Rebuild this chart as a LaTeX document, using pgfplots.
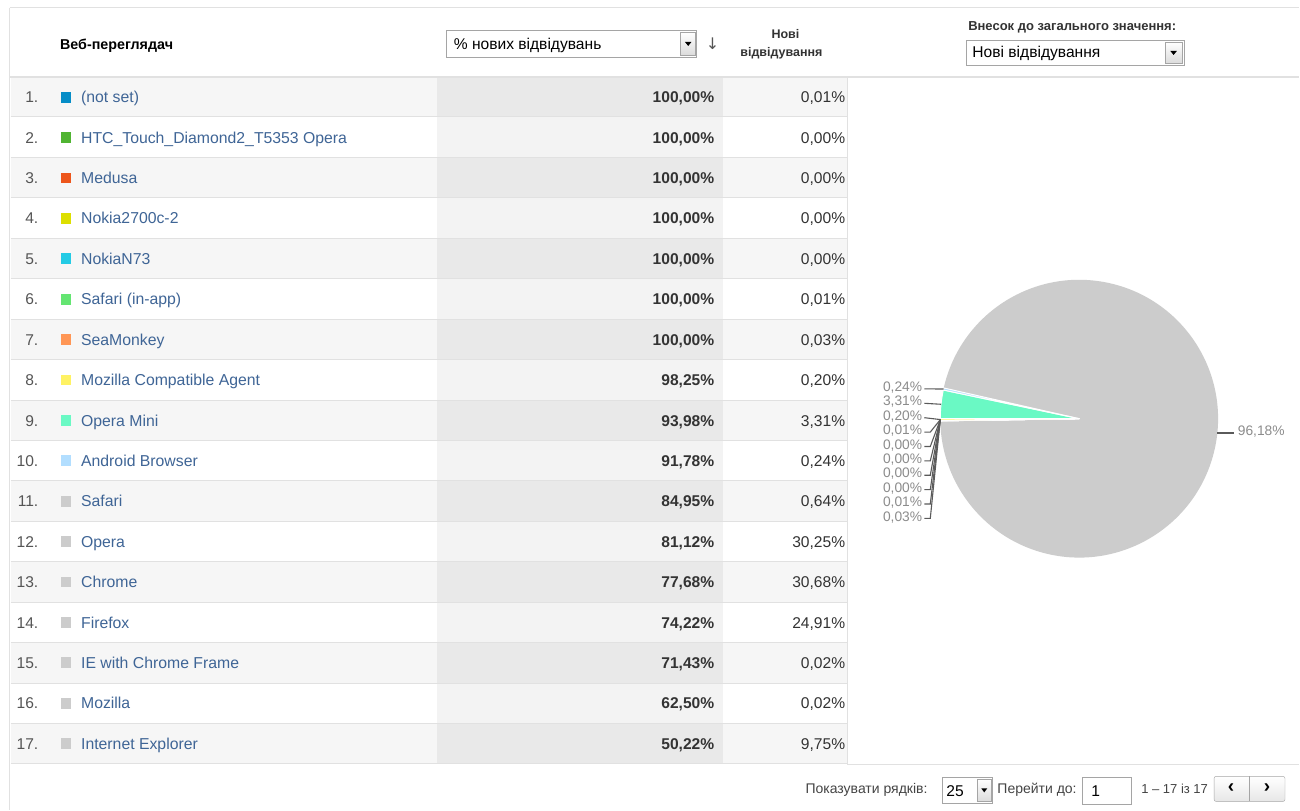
\documentclass[border=0pt]{standalone}
\usepackage{fontspec}
\setmainfont{Liberation Sans}
\newfontfamily\dejavu{DejaVu Sans}
\usepackage{pgfplots}
\usepackage{pgfplotstable}
\pgfplotsset{compat=1.18}

\definecolor{c1}{HTML}{058DC7}
\definecolor{c2}{HTML}{50B432}
\definecolor{c3}{HTML}{ED561B}
\definecolor{c4}{HTML}{DDDF00}
\definecolor{c5}{HTML}{24CBE5}
\definecolor{c6}{HTML}{64E572}
\definecolor{c7}{HTML}{FF9655}
\definecolor{c8}{HTML}{FFF263}
\definecolor{c9}{HTML}{6AF9C4}
\definecolor{c10}{HTML}{B2DEFF}
\definecolor{cg}{HTML}{CCCCCC}
\definecolor{linkc}{HTML}{3F6596}
\definecolor{numc}{HTML}{555555}
\definecolor{valc}{HTML}{333333}
\definecolor{sepc}{HTML}{E1E1E1}
\definecolor{rowg}{HTML}{F6F6F6}
\definecolor{colg}{HTML}{E9E9E9}
\definecolor{colw}{HTML}{F3F3F3}
\definecolor{labc}{HTML}{8C8C8C}
\definecolor{leadc}{HTML}{5A5A5A}
\definecolor{boxc}{HTML}{A5A5A5}
\definecolor{btnc}{HTML}{DCDCDC}
\definecolor{ftc}{HTML}{444444}

\newcommand\fs[1]{\fontsize{#1}{#1}\selectfont}
\pgfkeys{/pgf/number format/.cd, fixed, fixed zerofill, precision=2, use comma, assume math mode=true}

% browser, % new visits, share of new visits
\pgfplotstableread[col sep=comma]{
idx,name,col,pnew,share
1,(not set),c1,100.00,0.01
2,HTC\_Touch\_Diamond2\_T5353 Opera,c2,100.00,0.00
3,Medusa,c3,100.00,0.00
4,Nokia2700c-2,c4,100.00,0.00
5,NokiaN73,c5,100.00,0.00
6,Safari (in-app),c6,100.00,0.01
7,SeaMonkey,c7,100.00,0.03
8,Mozilla Compatible Agent,c8,98.25,0.20
9,Opera Mini,c9,93.98,3.31
10,Android Browser,c10,91.78,0.24
11,Safari,cg,84.95,0.64
12,Opera,cg,81.12,30.25
13,Chrome,cg,77.68,30.68
14,Firefox,cg,74.22,24.91
15,IE with Chrome Frame,cg,71.43,0.02
16,Mozilla,cg,62.50,0.02
17,Internet Explorer,cg,50.22,9.75
}\browsers

% pie slices (first ten rows + the rest)
\pgfplotstableread[col sep=comma]{
share,col
0.01,c1
0.00,c2
0.00,c3
0.00,c4
0.00,c5
0.01,c6
0.03,c7
0.20,c8
3.31,c9
0.24,c10
96.18,cg
}\pieshares

\begin{document}
\begin{tikzpicture}
\begin{axis}[
  x=1pt, y=1pt, xmin=0, xmax=1300, ymin=0, ymax=811,
  y dir=reverse, hide axis, scale only axis, clip=false,
]
\pgfplotsextra{%
\begin{scope}[every node/.append style={inner sep=0pt}]
  \fill[white] (axis cs:0,0) rectangle (axis cs:1300,811);

  % ---- row backgrounds
  \foreach \i in {0,...,16}{%
    \pgfmathsetmacro\yt{round(77+40.44*\i)}%
    \pgfmathsetmacro\yb{round(77+40.44*(\i+1))}%
    \ifodd\i
      \def\bga{white}\def\bgb{colw}\def\bgc{white}%
    \else
      \def\bga{rowg}\def\bgb{colg}\def\bgc{rowg}%
    \fi
    \fill[\bga] (axis cs:11,\yt) rectangle (axis cs:437,\yb);
    \fill[\bgb] (axis cs:437,\yt) rectangle (axis cs:724,\yb);
    \fill[\bgc] (axis cs:724,\yt) rectangle (axis cs:848,\yb);
  }
  % ---- row lines and text
  \foreach \i in {0,...,16}{%
    \pgfmathsetmacro\yb{round(77+40.44*(\i+1))}%
    \pgfmathsetmacro\yc{77+40.44*\i+20.22}%
    \pgfmathsetmacro\ybl{\yc+5.6}%
    \pgfmathsetmacro\sqa{\yc-5.4}%
    \pgfmathsetmacro\sqb{\yc+5.4}%
    \draw[sepc, line width=1pt] (axis cs:11,\yb) -- (axis cs:848,\yb);
    \pgfplotstablegetelem{\i}{idx}\of\browsers \let\rid\pgfplotsretval
    \pgfplotstablegetelem{\i}{name}\of\browsers \let\rname\pgfplotsretval
    \pgfplotstablegetelem{\i}{col}\of\browsers \let\rcol\pgfplotsretval
    \pgfplotstablegetelem{\i}{pnew}\of\browsers \let\rpnew\pgfplotsretval
    \pgfplotstablegetelem{\i}{share}\of\browsers \let\rshare\pgfplotsretval
    \node[anchor=base east, text=numc, font=\fs{15.6}] at (axis cs:38.5,\ybl) {\rid.};
    \fill[\rcol] (axis cs:61,\sqa) rectangle (axis cs:71.5,\sqb);
    \node[anchor=base west, text=linkc, font=\fs{15.8}] at (axis cs:81,\ybl) {\rname};
    \node[anchor=base east, text=valc, font=\bfseries\fs{15.6}] at (axis cs:715,\ybl) {\pgfmathprintnumber{\rpnew}\%};
    \node[anchor=base east, text=valc, font=\fs{15.6}] at (axis cs:846,\ybl) {\pgfmathprintnumber{\rshare}\%};
  }

  % ---- frame lines
  \draw[sepc, line width=1pt] (axis cs:10,8) -- (axis cs:1300,8);
  \draw[sepc, line width=2pt] (axis cs:10,77) -- (axis cs:1300,77);
  \draw[sepc, line width=1pt] (axis cs:10,8) -- (axis cs:10,811);
  \draw[sepc, line width=1pt] (axis cs:848,77) -- (axis cs:848,765);
  \draw[sepc, line width=1pt] (axis cs:848,765) -- (axis cs:1300,765);

  % ---- header
  \node[anchor=base west, text=black, font=\bfseries\fs{14.3}] at (axis cs:60,50) {Веб-переглядач};
  \draw[boxc, fill=white] (axis cs:447,30) rectangle (axis cs:697,57);
  \shade[top color=white, bottom color=btnc, draw=boxc] (axis cs:681,32) rectangle (axis cs:696,55);
  \fill[black] (axis cs:685.5,42) -- (axis cs:692,42) -- (axis cs:688.75,46) -- cycle;
  \node[anchor=base west, text=black, font=\fs{15.6}] at (axis cs:454,49.5) {\% нових відвідувань};
  \node[text=numc, font=\dejavu\fs{16}] at (axis cs:713,44) {↓};
  \node[anchor=base, text=valc, font=\bfseries\fs{12.5}] at (axis cs:786,38.5) {Нові};
  \node[anchor=base, text=valc, font=\bfseries\fs{12.5}] at (axis cs:782,57) {відвідування};

  \node[anchor=base, text=valc, font=\bfseries\fs{13}] at (axis cs:1073,30.5) {Внесок до загального значення:};
  \draw[boxc, fill=white] (axis cs:967,40) rectangle (axis cs:1185,65);
  \shade[top color=white, bottom color=btnc, draw=boxc] (axis cs:1166,42) rectangle (axis cs:1183,63);
  \fill[black] (axis cs:1171.2,51) -- (axis cs:1177.8,51) -- (axis cs:1174.5,55) -- cycle;
  \node[anchor=base west, text=black, font=\fs{15.6}] at (axis cs:973,58) {Нові відвідування};

  % ---- footer
  \node[anchor=base west, text=ftc, font=\fs{14}] at (axis cs:806,794) {Показувати рядків:};
  \draw[boxc, fill=white] (axis cs:943,778) rectangle (axis cs:993,804);
  \shade[top color=white, bottom color=btnc, draw=boxc] (axis cs:978,780) rectangle (axis cs:992,802);
  \fill[black] (axis cs:982,789) -- (axis cs:988,789) -- (axis cs:985,793) -- cycle;
  \node[anchor=base west, text=black, font=\fs{15.6}] at (axis cs:947,797) {25};
  \node[anchor=base west, text=ftc, font=\fs{14}] at (axis cs:998,794) {Перейти до:};
  \draw[boxc, fill=white] (axis cs:1083,778) rectangle (axis cs:1132,805);
  \node[anchor=base west, text=black, font=\fs{15.6}] at (axis cs:1092,797.5) {1};
  \node[anchor=base west, text=ftc, font=\fs{13}] at (axis cs:1142,794) {1 – 17 із 17};
  \shade[top color=white, bottom color=btnc!70, draw=boxc, rounded corners=2pt] (axis cs:1215,777) rectangle (axis cs:1286,802);
  \draw[boxc] (axis cs:1250,777) -- (axis cs:1250,802);
  \node[text=black, font=\bfseries\fs{19}] at (axis cs:1232,789) {‹};
  \node[text=black, font=\bfseries\fs{19}] at (axis cs:1268,789) {›};

  % ---- pie: angles from the shares, clockwise from the left
  \gdef\acc{0}%
  \foreach \i in {0,...,7}{%
    \pgfplotstablegetelem{\i}{share}\of\pieshares
    \pgfmathsetmacro\tmp{\acc+\pgfplotsretval}%
    \global\let\acc\tmp
  }%
  \pgfmathsetmacro\azero{180+3.6*\acc}%
  \global\let\cur\azero
  \foreach \i in {0,...,10}{%
    \pgfplotstablegetelem{\i}{share}\of\pieshares
    \pgfmathsetmacro\nxt{\cur-3.6*\pgfplotsretval}%
    \expandafter\xdef\csname pa\i\endcsname{\cur}%
    \expandafter\xdef\csname pb\i\endcsname{\nxt}%
    \global\let\cur\nxt
  }%
  \edef\sa{\csname pa10\endcsname}\edef\sb{\csname pb10\endcsname}%
  \fill[cg] (axis cs:1080,419) -- ++(\sa:139pt) arc[start angle=\sa, end angle=\sb, radius=139pt] -- cycle;
  \foreach \i in {0,...,9}{%
    \edef\sa{\csname pa\i\endcsname}\edef\sb{\csname pb\i\endcsname}%
    \pgfplotstablegetelem{\i}{col}\of\pieshares \let\scol\pgfplotsretval
    \filldraw[fill=\scol, draw=white, line width=1pt, line join=round]
      (axis cs:1080,419) -- ++(\sa:139pt) arc[start angle=\sa, end angle=\sb, radius=139pt] -- cycle;
  }
  % labels
  \foreach \i in {0,...,9}{%
    \pgfplotstablegetelem{\i}{share}\of\pieshares \let\sv\pgfplotsretval
    \edef\sa{\csname pa\i\endcsname}\edef\sb{\csname pb\i\endcsname}%
    \pgfmathsetmacro\amid{(\sa+\sb)/2}%
    \ifnum\i<7
      \pgfmathsetmacro\ly{432.4+14.4*\i}%
      \draw[leadc, line width=1.1pt] (axis cs:925,\ly) -- (axis cs:931,\ly) -- (axis cs:941,420);
    \else
      \pgfmathsetmacro\ly{418-14.4*(\i-7)}%
      \draw[leadc, line width=1.1pt] (axis cs:1080,419) ++(\amid:139pt) -- (axis cs:925,\ly);
    \fi
    \node[anchor=mid east, text=labc, font=\fs{13.8}] at (axis cs:923,\ly) {\pgfmathprintnumber{\sv}\%};
  }
  \pgfplotstablegetelem{10}{share}\of\pieshares \let\sv\pgfplotsretval
  \edef\sa{\csname pa10\endcsname}\edef\sb{\csname pb10\endcsname}%
  \pgfmathsetmacro\amid{(\sa+\sb)/2}%
  \draw[leadc, line width=1.1pt] (axis cs:1080,419) ++(\amid:139pt) -- ++(17pt,0pt)
    node[anchor=mid west, text=labc, font=\fs{13.8}, xshift=3pt] {\pgfmathprintnumber{\sv}\%};
\end{scope}
}
\end{axis}
\end{tikzpicture}
\end{document}
